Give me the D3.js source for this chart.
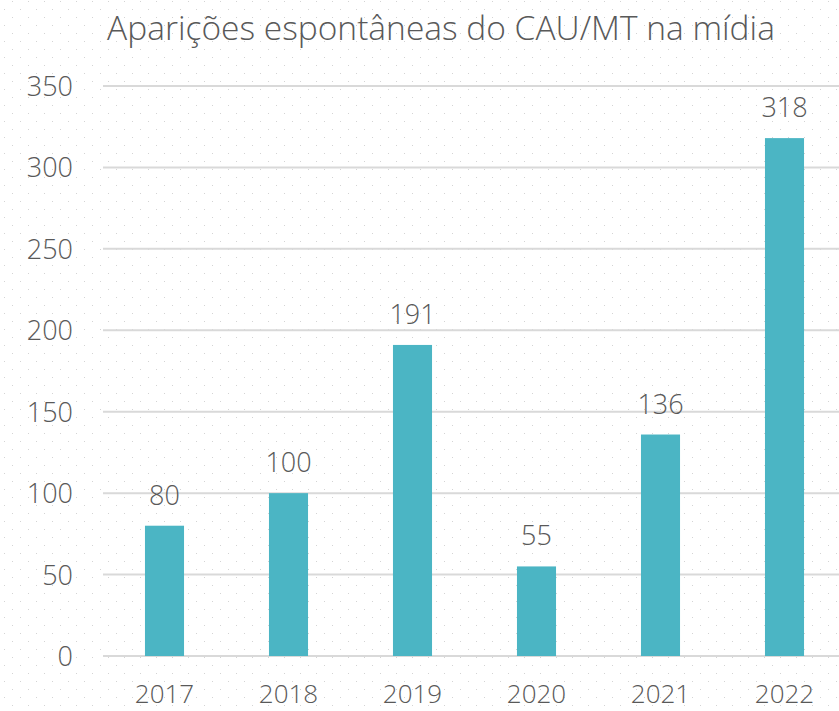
<!DOCTYPE html>
<html><head><meta charset="utf-8">
<script src="https://cdn.jsdelivr.net/npm/d3@7"></script>
<style>body{margin:0;background:#fff}svg{display:block}</style>
</head><body>
<svg id="c" width="839" height="711"></svg>
<script>
const categories = ["2017","2018","2019","2020","2021","2022"];
const values = [80,100,191,55,136,318];
const yTicks = [0,50,100,150,200,250,300,350];
const title = "Aparições espontâneas do CAU/MT na mídia";

const W=839,H=711;
const svg=d3.select("#c");
const defs=svg.append("defs");
const pat=defs.append("pattern").attr("id","dots").attr("patternUnits","userSpaceOnUse")
  .attr("width",16).attr("height",16).attr("x",0).attr("y",0);
pat.append("rect").attr("x",4).attr("y",9).attr("width",1).attr("height",1).attr("fill","#d4d4d4");
pat.append("rect").attr("x",12).attr("y",1).attr("width",1).attr("height",1).attr("fill","#d4d4d4");
svg.append("rect").attr("width",W).attr("height",H).attr("fill","#fff");
svg.append("rect").attr("width",W).attr("height",H).attr("fill","url(#dots)");

const left=102.5, step=124;
const x=d3.scaleBand().domain(categories).range([left,left+step*categories.length]).paddingInner(0.685).paddingOuter(0.3425);
const y=d3.scaleLinear().domain([0,350]).range([656,86]);
const font="'Open Sans', sans-serif", col="#595959", fw=300;

svg.append("g").selectAll("line").data(yTicks).join("line")
  .attr("x1",103).attr("x2",839).attr("y1",d=>y(d)).attr("y2",d=>y(d))
  .attr("stroke","#d9d9d9").attr("stroke-width",2);

svg.append("g").selectAll("text").data(yTicks).join("text")
  .attr("x",73).attr("y",d=>y(d)+10).attr("text-anchor","end")
  .attr("font-family",font).attr("font-weight",fw).attr("font-size",27).attr("fill",col).text(d=>d);

svg.append("g").selectAll("rect").data(values).join("rect")
  .attr("x",(d,i)=>x(categories[i])).attr("width",x.bandwidth())
  .attr("y",d=>y(d)).attr("height",d=>y(0)-y(d)).attr("fill","#4BB5C4");

svg.append("g").selectAll("text").data(values).join("text")
  .attr("x",(d,i)=>x(categories[i])+x.bandwidth()/2).attr("y",d=>y(d)-21)
  .attr("text-anchor","middle").attr("font-family",font).attr("font-weight",fw).attr("font-size",27).attr("fill",col).text(d=>d);

svg.append("g").selectAll("text").data(categories).join("text")
  .attr("x",d=>x(d)+x.bandwidth()/2).attr("y",703)
  .attr("text-anchor","middle").attr("font-family",font).attr("font-weight",fw).attr("font-size",26).attr("fill",col).text(d=>d);

svg.append("text").attr("x",441).attr("y",40).attr("text-anchor","middle")
  .attr("font-family",font).attr("font-weight",fw).attr("font-size",33.5).attr("fill",col).text(title);
</script>
</body></html>
